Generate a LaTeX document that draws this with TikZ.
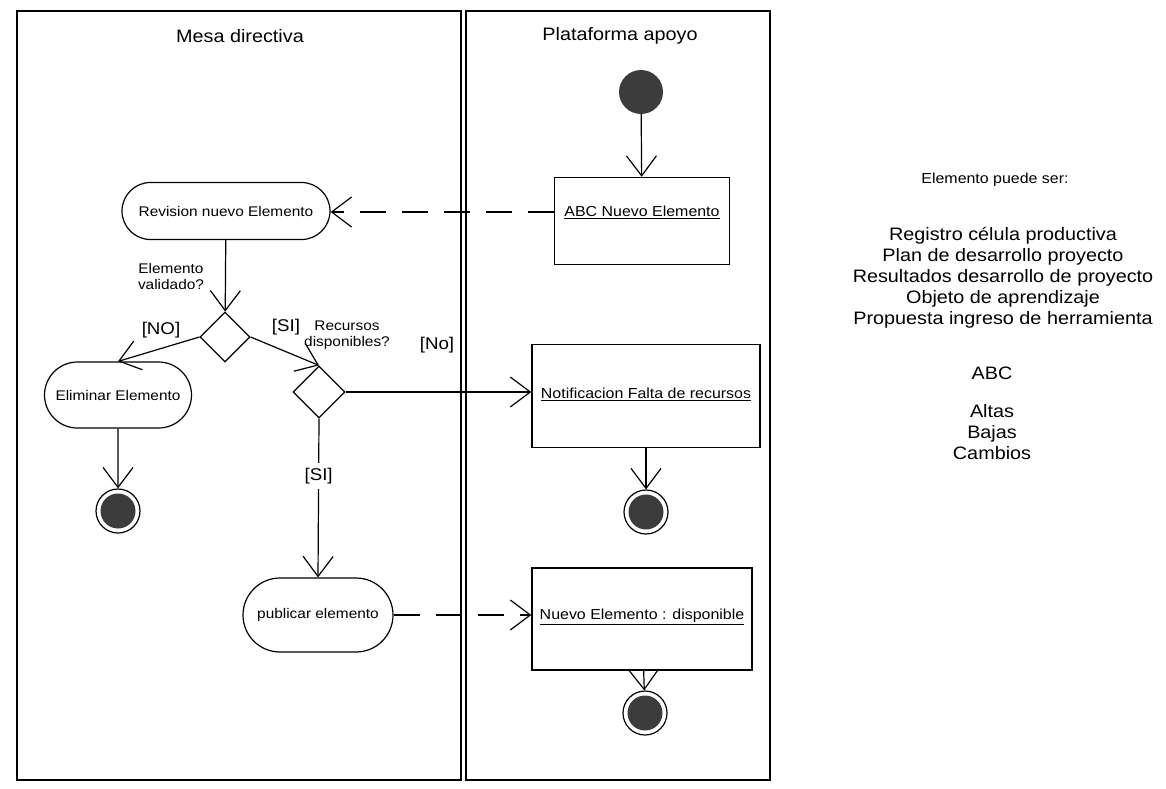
\documentclass[tikz,border=0pt]{standalone}
\usepackage{fontspec}
\setmainfont[FakeStretch=1.1]{Liberation Sans}
\usetikzlibrary{arrows.meta,shapes.geometric,shapes.misc}
\definecolor{inkgray}{HTML}{3C3C3C}
\tikzset{
  lane/.style={draw, line width=1.6pt},
  lanetitle/.style={font=\fontsize{18}{20}\selectfont, inner sep=0pt},
  act/.style={rounded rectangle, draw, line width=1.2pt, inner sep=0pt,
    font=\fontsize{14}{16}\selectfont},
  objbox/.style={rectangle, draw, line width=1.4pt, inner sep=0pt},
  objtext/.style={font=\fontsize{14.5}{16}\selectfont, inner sep=0pt},
  choice/.style={diamond, draw, line width=1.2pt, minimum width=50pt,
    minimum height=50pt, inner sep=0pt},
  guard/.style={font=\fontsize{17}{19}\selectfont, inner sep=1pt},
  question/.style={font=\fontsize{14}{16}\selectfont, align=center, inner sep=0pt},
  initial/.style={circle, fill=inkgray, minimum size=44pt, inner sep=0pt},
  final/.style={circle, draw, line width=1.2pt, minimum size=44pt, inner sep=0pt,
    path picture={\fill[inkgray] (path picture bounding box.center) circle (17.5pt);}},
  flow/.style={draw, line width=1.2pt,
    -{Straight Barb[length=20pt, width=30pt, line width=1.2pt]}},
  signal/.style={flow, dash pattern=on 26pt off 16pt},
  note/.style={font=\fontsize{18}{21}\selectfont, align=center, inner sep=0pt},
}
\begin{document}
\begin{tikzpicture}[x=1pt, y=-1pt]
\useasboundingbox (0,0) rectangle (1166,788);

% swimlanes
\draw[lane] (17,11) rectangle (461,780);
\draw[lane] (466,11) rectangle (770,780);
\node[lanetitle] (laneA) at (240,36) {Mesa directiva};
\node[lanetitle] (laneB) at (620,36) {Plataforma apoyo};

% Plataforma apoyo
\node[initial] (start) at (641,92) {};
\node[objbox, minimum width=175pt, minimum height=87pt] (abc) at (642,221) {};
\node[objtext] (abct) at (642,212) {\underline{ABC Nuevo Elemento}};
\node[objbox, minimum width=228pt, minimum height=103pt] (notif) at (646,396) {};
\node[objtext] (notift) at (646,394) {\underline{Notificacion Falta de recursos}};
\node[final] (endB) at (646,512) {};
\node[objbox, minimum width=220pt, minimum height=102pt] (nuevo) at (642,619) {};
\node[objtext] (nuevot) at (642,617) {\underline{Nuevo Elemento : disponible}};
\node[final] (endC) at (645,713) {};

% Mesa directiva
\node[act, minimum width=208pt, minimum height=57pt] (rev) at (226,211) {Revision nuevo Elemento};
\node[choice] (val) at (225,337) {};
\node[act, minimum width=147pt, minimum height=66pt] (elim) at (118,395) {Eliminar Elemento};
\node[final] (endA) at (118,511) {};
\node[choice, minimum width=52pt, minimum height=52pt] (rec) at (319,392) {};
\node[act, minimum width=150pt, minimum height=74pt] (pub) at (318,615) {publicar elemento};

\node[question] (qval) at (171,276) {Elemento\\validado?};
\node[question] (qrec) at (347,335) {Recursos\\disponibles?};
\node[guard] (gno) at (161,330) {[NO]};
\node[guard] (gsi) at (286,327) {[SI]};
\node[guard] (gno2) at (437,345) {[No]};

% flows
\draw[flow] (start) -- (abc);
\draw[signal] (abct -| abc.west) -- (abct -| rev.east);
\draw[flow] (rev) -- (val);
\draw[flow] (val.west) -- (elim.north);
\draw[flow] (elim) -- (endA);
\draw[flow] (val.east) -- (rec.north);
\draw[flow] (rec.east) -- (rec.east -| notif.west);
\draw[flow] (notif) -- (endB);
\draw[flow] (rec.south) -- node[guard, fill=white, pos=0.36, inner ysep=5pt] (gsi2) {[SI]} (pub.north);
\draw[signal] (pub.east) -- (pub.east -| nuevo.west);
\draw[flow] (nuevo) -- (endC);

% legend
\node[note, font=\fontsize{14.5}{16}\selectfont] (legend) at (995,180) {Elemento puede ser:};
\node[note] (kinds) at (1003,278) {Registro célula productiva\\Plan de desarrollo proyecto\\Resultados desarrollo de proyecto\\Objeto de aprendizaje\\Propuesta ingreso de herramienta};
\node[note] (abcnote) at (992,373) {ABC};
\node[note] (ops) at (992,432) {Altas\\Bajas\\Cambios};
\end{tikzpicture}
\end{document}
